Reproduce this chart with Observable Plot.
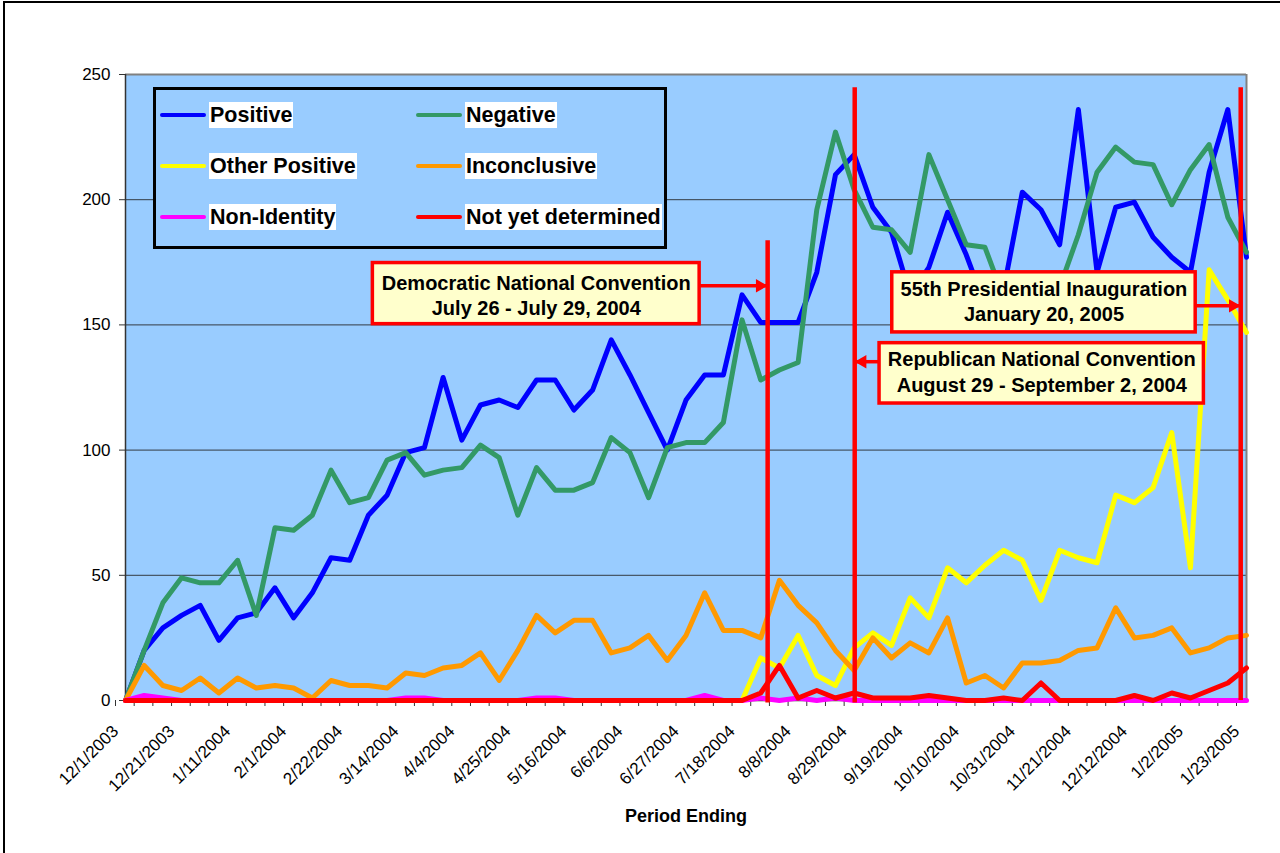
<!DOCTYPE html>
<html>
<head>
<meta charset="utf-8">
<script src="https://cdn.jsdelivr.net/npm/d3@7"></script>
<script src="https://cdn.jsdelivr.net/npm/@observablehq/plot@0.6"></script>
<style>
html, body { margin: 0; padding: 0; background: #fff; overflow: hidden; }
#wrap { position: relative; width: 1280px; height: 853px; font-family: "Liberation Sans", Arial, sans-serif; }
#frame { position: absolute; left: 3px; top: 1px; width: 1400px; height: 1000px; border-left: 2px solid #000; border-top: 2px solid #000; pointer-events: none; }
#legend { position: absolute; left: 153px; top: 87px; width: 508px; height: 156px; border: 3px solid #000; background: #99CCFF; }
.item { position: absolute; display: flex; align-items: center; height: 26px; }
.sw { width: 46px; height: 4px; border-radius: 2px; margin-right: 3px; }
.lab { background: #fff; font-weight: bold; font-size: 21.5px; line-height: 26px; padding: 0 1px; color: #000; white-space: nowrap; }
</style>
</head>
<body>
<div id="wrap">
  <div id="chart"></div>
  <div id="legend"></div>
  <div id="frame"></div>
</div>
<script>
// ---- Categories (period ending) ----
const dates = ["12/1/2003","12/7/2003","12/14/2003","12/21/2003","12/28/2003","1/4/2004","1/11/2004","1/18/2004","1/25/2004","2/1/2004",
  "2/8/2004","2/15/2004","2/22/2004","2/29/2004","3/7/2004","3/14/2004","3/21/2004","3/28/2004","4/4/2004","4/11/2004",
  "4/18/2004","4/25/2004","5/2/2004","5/9/2004","5/16/2004","5/23/2004","5/30/2004","6/6/2004","6/13/2004","6/20/2004",
  "6/27/2004","7/4/2004","7/11/2004","7/18/2004","7/25/2004","8/1/2004","8/8/2004","8/15/2004","8/22/2004","8/29/2004",
  "9/5/2004","9/12/2004","9/19/2004","9/26/2004","10/3/2004","10/10/2004","10/17/2004","10/24/2004","10/31/2004","11/7/2004",
  "11/14/2004","11/21/2004","11/28/2004","12/5/2004","12/12/2004","12/19/2004","12/26/2004","1/2/2005","1/9/2005","1/16/2005","1/23/2005"];

// ---- Series values ----
const positive = [0,20,29,34,38,24,33,35,45,33, 43,57,56,74,82,99,101,129,104,118, 120,117,128,128,116,124,144,130,115,100,
  120,130,130,162,151,151,151,171,210,218, 197,187,162,173,195,178,158,164,203,196, 182,236,171,197,199,185,177,171,211,236, 177];
const negative = [0,20,39,49,47,47,56,34,69,68, 74,92,79,81,96,99,90,92,93,102, 97,74,93,84,84,87,105,99,81,101,
  103,103,111,152,128,132,135,196,227,204, 189,188,179,218,200,182,181,161,156,159, 165,186,211,221,215,214,198,212,222,193, 179];
const otherPositive = [0,0,0,0,0,0,0,0,0,0, 0,0,0,0,0,0,0,0,0,0, 0,0,0,0,0,0,0,0,0,0,
  0,0,0,0,17,13,26,10,6,21, 27,22,41,33,53,47,54,60,56,40, 60,57,55,82,79,85,107,53,172,160, 147];
const inconclusive = [0,14,6,4,9,3,9,5,6,5, 1,8,6,6,5,11,10,13,14,19, 8,20,34,27,32,32,19,21,26,16,
  26,43,28,28,25,48,38,31,20,12, 25,17,23,19,33,7,10,5,15,15, 16,20,21,37,25,26,29,19,21,25, 26];
const nonIdentity = [0,2,1,0,0,0,0,0,0,0, 0,0,0,0,0,1,1,0,0,0, 0,0,1,1,0,0,0,0,0,0,
  0,2,0,0,1,0,1,0,1,0, 0,0,0,0,0,0,0,0,0,0, 0,0,0,0,0,0,0,0,0,0, 0];
const notYetDetermined = [0,0,0,0,0,0,0,0,0,0, 0,0,0,0,0,0,0,0,0,0, 0,0,0,0,0,0,0,0,0,0,
  0,0,0,0,3,14,1,4,1,3, 1,1,1,2,1,0,0,1,0,7, 0,0,0,0,2,0,3,1,4,7, 13];

const seriesNames = ["Positive","Negative","Other Positive","Inconclusive","Non-Identity","Not yet determined"];
const seriesColors = ["#0000FF","#339966","#FFFF00","#FF9900","#FF00FF","#FF0000"];
const seriesValues = [positive, negative, otherPositive, inconclusive, nonIdentity, notYetDetermined];
const yTicks = [0,50,100,150,200,250];

// ---- Event annotations ----
const eventLabels = ["Democratic National Convention\nJuly 26 - July 29, 2004",
  "Republican National Convention\nAugust 29 - September 2, 2004",
  "55th Presidential Inauguration\nJanuary 20, 2005"];
const eventAt = [34.37, 39.03, 59.69];   // category position of the marker line

// layout of annotation boxes (in chart units)
const layout = [
  {top: 183.6, bottom: -1, bx1: 13.24, bx2: 30.73, by1: 150.3, by2: 174.7, ty: 162.1, ay: 165.6, dir: 1},
  {top: 244.7, bottom: -1, bx1: 40.36, bx2: 57.72, by1: 118.6, by2: 142.7, ty: 131.7, ay: 135.3, dir: -1},
  {top: 244.7, bottom: 0, bx1: 41.04, bx2: 57.28, by1: 147.0, by2: 171.0, ty: 159.8, ay: 157.6, dir: 1}
];
const notes = eventLabels.map((label, k) => ({label, at: eventAt[k], ...layout[k]}));

const rows = seriesNames.flatMap((s, k) => seriesValues[k].map((v, i) => ({series: s, i, date: dates[i], value: v})));

const plot = Plot.plot({
  width: 1280, height: 853,
  marginLeft: 125, marginRight: 34, marginTop: 74, marginBottom: 153,
  x: {type: "linear", domain: [0, 60]},
  y: {domain: [0, 250]},
  color: {domain: seriesNames, range: seriesColors},
  style: {fontFamily: "'Liberation Sans', Arial, sans-serif", background: "transparent", overflow: "visible", color: "#000"},
  marks: [
    Plot.frame({fill: "#99CCFF", stroke: null}),
    Plot.gridY([50, 100, 150, 200], {stroke: "#222", strokeOpacity: 0.85, strokeWidth: 1}),
    Plot.ruleY([250], {stroke: "#808080", strokeWidth: 2}),
    Plot.ruleX([60], {stroke: "#808080", strokeWidth: 2}),
    Plot.ruleX([0], {stroke: "#333", strokeWidth: 1.5}),
    Plot.ruleY([0], {stroke: "#333", strokeWidth: 1.5}),
    Plot.axisY({ticks: yTicks, tickSize: 6, tickPadding: 9, fontSize: 17, label: null, stroke: "#333"}),
    Plot.axisX({ticks: d3.range(0, dates.length), tickFormat: i => (i % 3 === 0 ? dates[i] : ""), tickRotate: -45,
      tickSize: 6, tickPadding: 22, fontSize: 17, label: null, stroke: "#333", dx: -10}),
    Plot.text(["Period Ending"], {frameAnchor: "bottom", dy: 121, text: d => d, fontSize: 18, fontWeight: "bold", fill: "#000"}),
    Plot.line(rows, {x: "i", y: "value", z: "series", stroke: "series", strokeWidth: 5}),
    Plot.ruleX(notes, {x: "at", y1: "bottom", y2: "top", stroke: "#FF0000", strokeWidth: 4.5}),
    Plot.link(notes, {x1: d => d.dir > 0 ? d.bx2 : d.bx1, x2: "at", y1: "ay", y2: "ay", stroke: "#FF0000", strokeWidth: 3.5}),
    Plot.dot(notes.filter(d => d.dir > 0), {x: "at", y: "ay", symbol: "triangle", r: 5, fill: "#FF0000", stroke: null, rotate: 90, dx: -7.8}),
    Plot.dot(notes.filter(d => d.dir < 0), {x: "at", y: "ay", symbol: "triangle", r: 5, fill: "#FF0000", stroke: null, rotate: -90, dx: 7.8}),
    Plot.rect(notes, {x1: "bx1", x2: "bx2", y1: "by1", y2: "by2", fill: "#FFFFCC", stroke: "#FF0000", strokeWidth: 3.5}),
    Plot.text(notes, {x: d => (d.bx1 + d.bx2) / 2, y: "ty", text: "label", fontSize: 20, fontWeight: "bold", lineHeight: 1.27, fill: "#000"})
  ]
});
document.getElementById("chart").appendChild(plot);

// ---- Legend ----
const legend = document.getElementById("legend");
seriesNames.forEach((name, k) => {
  const row = Math.floor(k / 2), col = k % 2;
  const item = document.createElement("div");
  item.className = "item";
  item.style.left = (col === 0 ? 4 : 260) + "px";
  item.style.top = (11.5 + row * 51) + "px";
  item.innerHTML = `<div class="sw" style="background:${seriesColors[k]}"></div><span class="lab">${name}</span>`;
  legend.appendChild(item);
});
</script>
</body>
</html>
